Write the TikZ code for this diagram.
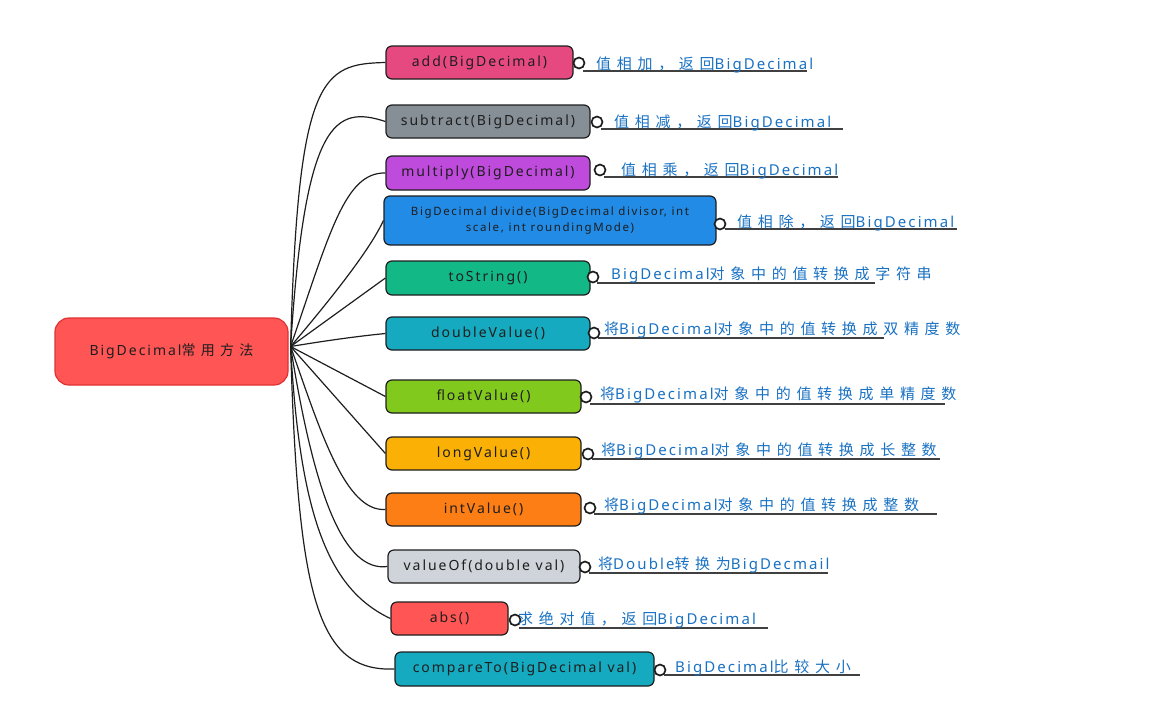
\documentclass[tikz,border=0pt]{standalone}
\usepackage{fontspec}
\setmainfont{Noto Sans}
\newfontfamily\lat[LetterSpace=14]{Noto Sans}
\newfontfamily\cjk[LetterSpace=38]{Noto Sans CJK SC}
\newcommand\zh[1]{{\cjk #1}}
\definecolor{cpink}{HTML}{E64980}
\definecolor{cgray}{HTML}{868E96}
\definecolor{cgrape}{HTML}{BE4BDB}
\definecolor{cblue}{HTML}{228BE6}
\definecolor{cteal}{HTML}{12B886}
\definecolor{ccyan}{HTML}{15AABF}
\definecolor{clime}{HTML}{82C91E}
\definecolor{cyellow}{HTML}{FAB005}
\definecolor{corange}{HTML}{FD7E14}
\definecolor{clgray}{HTML}{CED4DA}
\definecolor{cred}{HTML}{FF5555}
\definecolor{credb}{HTML}{E03131}
\definecolor{notecol}{HTML}{1971C2}
\definecolor{ink}{HTML}{1E1E1E}
\begin{document}
\begin{tikzpicture}[x=1pt,y=-1pt,
  mbox/.style={draw=ink, line width=1.2pt, rounded corners=6pt, inner sep=0pt,
    text=ink, font=\lat\fontsize{14}{16}\selectfont},
  rootbox/.style={draw=credb, fill=cred, line width=1.2pt, rounded corners=14pt,
    inner sep=0pt, text=ink, font=\lat\fontsize{14}{16}\selectfont},
  note/.style={anchor=base west, inner sep=0pt, text=notecol,
    font=\lat\fontsize{15}{17}\selectfont},
  dot/.style={circle, draw=ink, line width=1.7pt, minimum size=11pt, inner sep=0pt, fill=white},
  uline/.style={draw=ink!85, line width=1.4pt},
  link/.style={draw=ink, line width=1.2pt}]
\useasboundingbox (0,0) rectangle (1164,718);

% root
\node[rootbox, minimum width=233pt, minimum height=67pt] (root) at (171.5,351.5)
  {BigDecimal\zh{常用方法}};
\coordinate (hub) at ([shift={(2pt,5pt)}]root.east);

% boxes
\node[mbox, fill=cpink, minimum width=187pt, minimum height=33pt] (b1) at (479.5,62.5) {add(BigDecimal)};
\node[mbox, fill=cgray, minimum width=204pt, minimum height=33pt] (b2) at (488,121.5) {subtract(BigDecimal)};
\node[mbox, fill=cgrape, minimum width=204pt, minimum height=34pt] (b3) at (488,173) {multiply(BigDecimal)};
\node[mbox, fill=cblue, minimum width=332pt, minimum height=49pt, align=center,
  font=\lat\fontsize{11.5}{16}\selectfont] (b4) at (550,220.5)
  {BigDecimal divide(BigDecimal divisor, int\\scale, int roundingMode)};
\node[mbox, fill=cteal, minimum width=204pt, minimum height=34pt] (b5) at (488,278) {toString()};
\node[mbox, fill=ccyan, minimum width=204pt, minimum height=33pt] (b6) at (488,333.5) {doubleValue()};
\node[mbox, fill=clime, minimum width=195pt, minimum height=33pt] (b7) at (483.5,396.5) {floatValue()};
\node[mbox, fill=cyellow, minimum width=195pt, minimum height=33pt] (b8) at (483.5,453.5) {longValue()};
\node[mbox, fill=corange, minimum width=195pt, minimum height=33pt] (b9) at (483.5,509.5) {intValue()};
\node[mbox, fill=clgray, minimum width=192pt, minimum height=33pt] (b10) at (484,566.5) {valueOf(double val)};
\node[mbox, fill=cred, minimum width=117pt, minimum height=33pt] (b11) at (449.5,618.5) {abs()};
\node[mbox, fill=ccyan, minimum width=259pt, minimum height=34pt] (b12) at (524.5,669) {compareTo(BigDecimal val)};

% connectors
\draw[link] (hub) .. controls (298,75) and (322,64) .. (b1.west);
\draw[link] (hub) .. controls (305,120) and (335,105) .. (b2.west);
\draw[link] (hub) .. controls (330,232) and (345,172) .. (b3.west);
\draw[link] (hub) .. controls (330,300) and (370,250) .. (b4.west);
\draw[link] (hub) -- (b5.west);
\draw[link] (hub) .. controls (330,340) and (360,336) .. (b6.west);
\draw[link] (hub) -- (b7.west);
\draw[link] (hub) -- (b8.west);
\draw[link] (hub) .. controls (320,430) and (345,512) .. (b9.west);
\draw[link] (hub) .. controls (315,500) and (345,572) .. (b10.west);
\draw[link] (hub) .. controls (300,520) and (330,590) .. (b11.west);
\draw[link] (hub) .. controls (298,600) and (318,672) .. (b12.west);

% note line ends
\coordinate (e1) at (807,71);
\coordinate (e2) at (843,129);
\coordinate (e3) at (838,177);
\coordinate (e4) at (957,229);
\coordinate (e5) at (875,283);
\coordinate (e6) at (884,338);
\coordinate (e7) at (945,404);
\coordinate (e8) at (940,459);
\coordinate (e9) at (937,514);
\coordinate (e10) at (828,573);
\coordinate (e11) at (768,628);
\coordinate (e12) at (860,675);

% dots
\node[dot] (d1) at (579,63) {};
\node[dot] (d2) at (597,122) {};
\node[dot] (d3) at (600,170) {};
\node[dot] (d4) at (720,224) {};
\node[dot] (d5) at (593,277) {};
\node[dot] (d6) at (594,333) {};
\node[dot] (d7) at (586,397) {};
\node[dot] (d8) at (588,454) {};
\node[dot] (d9) at (590,508) {};
\node[dot] (d10) at (585,567) {};
\node[dot] (d11) at (515,620) {};
\node[dot] (d12) at (660,670) {};

\foreach \i in {1,...,12}{
  \draw[uline] (d\i.south east |- e\i) -- (e\i);
}

% notes
\node[note] (n1) at (596,69) {\zh{值相加，返回}BigDecimal};
\node[note] (n2) at (614,127) {\zh{值相减，返回}BigDecimal};
\node[note] (n3) at (621,175) {\zh{值相乘，返回}BigDecimal};
\node[note] (n4) at (737,227) {\zh{值相除，返回}BigDecimal};
\node[note] (n5) at (611,279) {BigDecimal\zh{对象中的值转换成字符串}};
\node[note] (n6) at (604,334) {\zh{将}BigDecimal\zh{对象中的值转换成双精度数}};
\node[note] (n7) at (600,399) {\zh{将}BigDecimal\zh{对象中的值转换成单精度数}};
\node[note] (n8) at (601,455) {\zh{将}BigDecimal\zh{对象中的值转换成长整数}};
\node[note] (n9) at (604,510) {\zh{将}BigDecimal\zh{对象中的值转换成整数}};
\node[note] (n10) at (598,569) {\zh{将}Double\zh{转换为}BigDecmail};
\node[note] (n11) at (518,624) {\zh{求绝对值，返回}BigDecimal};
\node[note] (n12) at (675,672) {BigDecimal\zh{比较大小}};
\end{tikzpicture}
\end{document}
